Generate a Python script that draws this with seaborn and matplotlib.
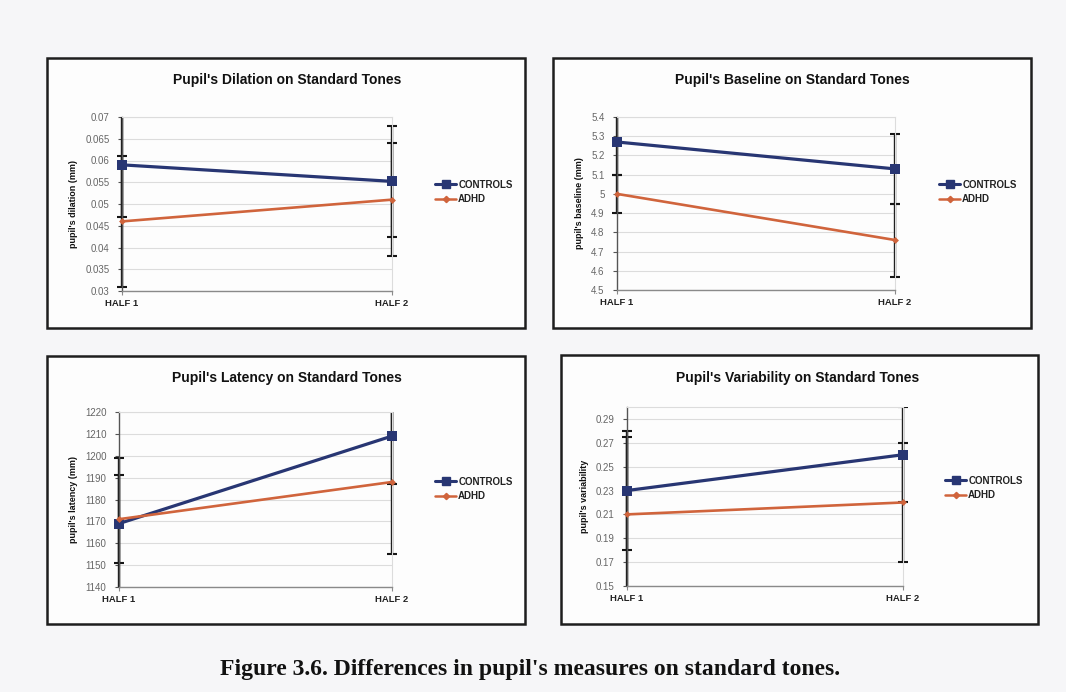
import numpy as np
import pandas as pd
import matplotlib
matplotlib.use("Agg")
import matplotlib.pyplot as plt
from matplotlib.patches import Rectangle
from matplotlib.lines import Line2D
import seaborn as sns

# ---- data -------------------------------------------------------------
halves = ["HALF 1", "HALF 2"]
groups = ["CONTROLS", "ADHD"]

dilation_controls = [0.059, 0.0552]
dilation_adhd = [0.046, 0.051]
dilation_controls_err = [0.012, 0.0128]
dilation_adhd_err = [0.015, 0.013]

baseline_controls = [5.27, 5.13]
baseline_adhd = [5.00, 4.76]
baseline_controls_err = [0.17, 0.18]
baseline_adhd_err = [0.10, 0.19]

latency_controls = [1169, 1209]
latency_adhd = [1171, 1188]
latency_controls_err = [30, 22]
latency_adhd_err = [20, 33]

variability_controls = [0.23, 0.26]
variability_adhd = [0.21, 0.22]
variability_controls_err = [0.05, 0.04]
variability_adhd_err = [0.065, 0.05]

titles = [
    "Pupil's Dilation on Standard Tones",
    "Pupil's Baseline on Standard Tones",
    "Pupil's Latency on Standard Tones",
    "Pupil's Variability on Standard Tones",
]
ylabels = [
    "pupil's dilation (mm)",
    "pupil's baseline (mm)",
    "pupil's latency (mm)",
    "pupil's variability",
]
dilation_ticks = [0.03, 0.035, 0.04, 0.045, 0.05, 0.055, 0.06, 0.065, 0.07]
baseline_ticks = [4.5, 4.6, 4.7, 4.8, 4.9, 5.0, 5.1, 5.2, 5.3, 5.4]
latency_ticks = [1140, 1150, 1160, 1170, 1180, 1190, 1200, 1210, 1220]
variability_ticks = [0.15, 0.17, 0.19, 0.21, 0.23, 0.25, 0.27, 0.29]
ylims = [(0.03, 0.07), (4.5, 5.4), (1140, 1220), (0.15, 0.30)]
caption = "Figure 3.6. Differences in pupil's measures on standard tones."

panels = [
    (dilation_controls, dilation_adhd, dilation_controls_err, dilation_adhd_err, dilation_ticks),
    (baseline_controls, baseline_adhd, baseline_controls_err, baseline_adhd_err, baseline_ticks),
    (latency_controls, latency_adhd, latency_controls_err, latency_adhd_err, latency_ticks),
    (variability_controls, variability_adhd, variability_controls_err, variability_adhd_err, variability_ticks),
]

# ---- layout (pixel boxes, origin top-left) ----------------------------
W, H = 1066, 692
frame_boxes = [(47, 58, 525, 328), (553, 58, 1031, 328),
               (47, 356, 525, 624), (561, 355, 1038, 624)]
plot_boxes = [(122, 117, 392, 291), (617, 117, 895, 290),
              (119, 412, 392, 587), (627, 407, 903, 586)]
title_pos = [(287, 80), (792, 80), (287, 378), (798, 378)]
legend_pos = [(430, 192), (934, 192), (430, 489), (940, 488)]

CONTROL_COLOR = "#283673"
ADHD_COLOR = "#d0643c"
palette = {"CONTROLS": CONTROL_COLOR, "ADHD": ADHD_COLOR}

sns.set_theme(style="white")
plt.rcParams["font.family"] = ["Liberation Sans", "DejaVu Sans"]

fig = plt.figure(figsize=(W / 100, H / 100), dpi=100)
fig.patch.set_facecolor("#f6f6f8")


def fx(px):
    return px / W


def fy(py):
    return 1 - py / H


# panel frames, kept underneath the axes
for (x0, y0, x1, y1) in frame_boxes:
    fig.patches.append(Rectangle((fx(x0), fy(y1)), fx(x1) - fx(x0), fy(y0) - fy(y1),
                                 transform=fig.transFigure, facecolor="#fdfdfd",
                                 edgecolor="#1e1e1e", linewidth=1.8, zorder=-5))

for i, (ctrl, adhd, ctrl_err, adhd_err, ticks) in enumerate(panels):
    x0, y0, x1, y1 = plot_boxes[i]
    ax = fig.add_axes([fx(x0), fy(y1), fx(x1) - fx(x0), fy(y0) - fy(y1)])
    ax.set_facecolor("none")
    ax.set_zorder(2)

    df = pd.DataFrame({
        "half": halves * 2,
        "value": list(ctrl) + list(adhd),
        "group": [groups[0]] * 2 + [groups[1]] * 2,
    })
    pos = np.arange(len(halves))

    # error bars (drawn behind the lines), clipped vertically to the plot area
    clip = Rectangle((-0.05, 0), 1.1, 1, transform=ax.transAxes, facecolor="none")
    for vals, errs in ((ctrl, ctrl_err), (adhd, adhd_err)):
        eb = ax.errorbar(pos, vals, yerr=errs, fmt="none", ecolor="#151515",
                         elinewidth=1.7, capsize=3.5, capthick=1.5, zorder=2)
        for art in list(eb.lines[1]) + list(eb.lines[2]):
            art.set_clip_on(True)
            art.set_clip_path(clip)

    sns.lineplot(data=df, x="half", y="value", hue="group", palette=palette,
                 style="group", markers={"CONTROLS": "s", "ADHD": "D"},
                 dashes=False, ax=ax, legend=False, zorder=3)
    for line, lw, ms in zip(ax.lines[-2:], (2.3, 1.9), (6.5, 3.5)):
        line.set_linewidth(lw)
        line.set_markersize(ms)
        line.set_markeredgewidth(0)
        line.set_clip_on(False)

    ax.set_xlim(0, 1)
    ax.set_ylim(*ylims[i])
    ax.set_yticks(ticks)
    ax.set_yticklabels([f"{t:g}" for t in ticks])
    ax.set_xticks(pos)
    ax.set_xticklabels(halves)
    ax.set_xlabel("")
    ax.set_ylabel(ylabels[i], fontsize=6.5, fontweight="bold", color="#111111", labelpad=5)
    ax.yaxis.grid(True, color="#dcdcdc", linewidth=0.8)
    ax.xaxis.grid(False)
    ax.set_axisbelow(True)
    for side in ("top", "right"):
        ax.spines[side].set_color("#dcdcdc")
        ax.spines[side].set_linewidth(0.8)
    ax.spines["left"].set_color("#555555")
    ax.spines["bottom"].set_color("#8a8a8a")
    ax.spines["left"].set_linewidth(1.0)
    ax.spines["bottom"].set_linewidth(1.0)
    ax.tick_params(axis="y", labelsize=7, labelcolor="#666666", length=3, width=0.8,
                   color="#555555", pad=6, left=True)
    ax.tick_params(axis="x", labelsize=6.8, labelcolor="#222222", length=3, width=0.8,
                   color="#8a8a8a", pad=3, bottom=True)
    for lab in ax.get_xticklabels():
        lab.set_fontweight("bold")

    tx, ty = title_pos[i]
    fig.text(fx(tx), fy(ty), titles[i], ha="center", va="center",
             fontsize=10, fontweight="bold", color="#111111")

    handles = [Line2D([], [], color=CONTROL_COLOR, lw=2.2, marker="s", ms=5.5),
               Line2D([], [], color=ADHD_COLOR, lw=1.8, marker="D", ms=3.2)]
    lx, ly = legend_pos[i]
    leg = fig.legend(handles, groups, loc="center left",
                     bbox_to_anchor=(fx(lx), fy(ly)), frameon=False,
                     prop={"size": 7, "weight": "bold"}, handlelength=2.2,
                     handletextpad=0.2, labelspacing=0.5, borderpad=0)
    for t in leg.get_texts():
        t.set_color("#222222")

fig.text(0.497, fy(669), caption, ha="center", va="center",
         fontsize=17, fontweight="bold", family=["Liberation Serif", "DejaVu Serif"],
         color="#111111")

fig.savefig("out.png", dpi=100, facecolor=fig.get_facecolor())
